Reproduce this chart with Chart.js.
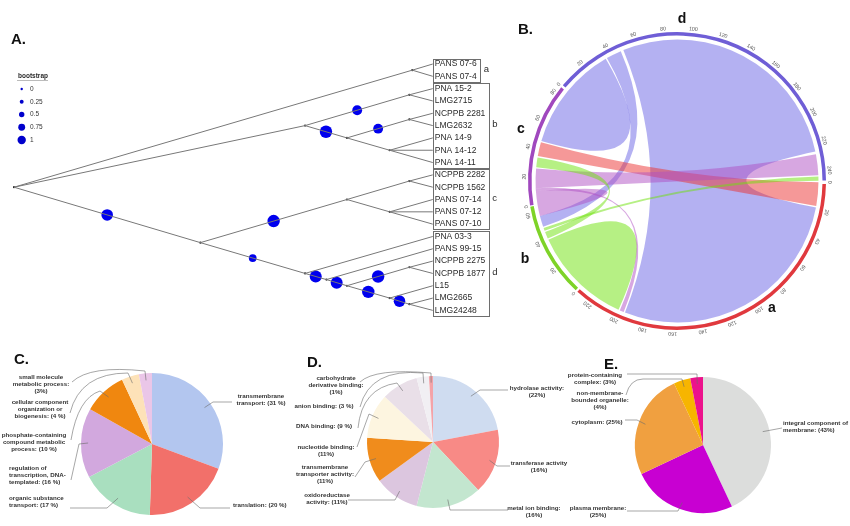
<!DOCTYPE html>
<html>
<head>
<meta charset="utf-8">
<title>Phylogeny, chord diagram and GO pies</title>
<script src="https://cdn.jsdelivr.net/npm/chart.js@4.4.1/dist/chart.umd.min.js"></script>
<style>
  html, body { margin: 0; padding: 0; background: #fff; }
  #fig { position: relative; width: 850px; height: 526px; overflow: hidden;
         font-family: "Liberation Sans", Arial, sans-serif; }
  #fig canvas { position: absolute; }
  .tag { position: absolute; font-weight: bold; font-size: 15px; line-height: 15px; color: #111; }
  .sec { position: absolute; font-weight: bold; font-size: 14px; line-height: 14px; color: #111;
         transform: translate(-50%, -50%); }
</style>
</head>
<body>
<div id="fig">
  <canvas id="tree" width="520" height="300" style="left:0;top:30px"></canvas>
  <canvas id="chord" width="340" height="340" style="left:507px;top:11px"></canvas>
  <canvas id="pieC" width="300" height="186" style="left:0;top:340px"></canvas>
  <canvas id="pieD" width="290" height="186" style="left:280px;top:340px"></canvas>
  <canvas id="pieE" width="290" height="186" style="left:560px;top:340px"></canvas>
  <div class="tag" style="left:11px;top:31px">A.</div>
  <div class="tag" style="left:518px;top:21px">B.</div>
  <div class="tag" style="left:14px;top:351px">C.</div>
  <div class="tag" style="left:307px;top:354px">D.</div>
  <div class="tag" style="left:604px;top:356px">E.</div>
  <div class="sec" style="left:682px;top:18px">d</div>
  <div class="sec" style="left:521px;top:128px">c</div>
  <div class="sec" style="left:525px;top:258px">b</div>
  <div class="sec" style="left:772px;top:307px">a</div>
</div>
<script>
// ---------- A. tree data ----------
const leafNames = ["PANS 07-6", "PANS 07-4", "PNA 15-2", "LMG2715", "NCPPB 2281", "LMG2632",
  "PNA 14-9", "PNA 14-12", "PNA 14-11", "NCPPB 2282", "NCPPB 1562", "PANS 07-14", "PANS 07-12",
  "PANS 07-10", "PNA 03-3", "PANS 99-15", "NCPPB 2275", "NCPPB 1877", "L15", "LMG2665", "LMG24248"];
const groupNames = ["a", "b", "c", "d"];
const groupFirst = [0, 2, 9, 14];
const groupLast = [1, 8, 13, 20];
// internal nodes: parent (-1 = root) and distance from root (tips = 1)
const nodeParent = [-1, 0, 0, 2, 2, 4, 4, 0, 7, 8, 8, 7, 11, 12, 13, 13, 15];
const nodeDepth = [0, 0.951, 0.695, 0.944, 0.795, 0.944, 0.897, 0.445, 0.795, 0.944, 0.897,
  0.695, 0.746, 0.795, 0.944, 0.897, 0.944];
const leafParent = [1, 1, 3, 3, 5, 5, 6, 6, 6, 9, 9, 10, 10, 10, 11, 12, 14, 14, 15, 16, 16];
// bootstrap on the branch above each internal node
const bootstrap = [null, null, null, 0.7, 1, 0.7, null, 0.9, 1, null, null, 0.45, 0.95, 0.95, 1, 1, 0.9];
const legendSteps = [0, 0.25, 0.5, 0.75, 1];

// ---------- B. chord data ----------
const sectorNames = ["a", "b", "c", "d"];
const sectorTotals = [232, 66, 86, 248];
const sectorColors = ["#e0393e", "#7ed328", "#a048be", "#6f5ed6"];
const ribbonColors = ["rgba(235,50,50,0.5)", "rgba(110,225,10,0.5)", "rgba(175,80,195,0.5)", "rgba(105,100,230,0.5)"];
const linkFrom = ["d", "d", "d", "a", "c", "c", "c", "b", "b", "b"];
const fromStart = [50, 0, 37, 0, 12, 0, 10, 0, 41, 47];
const fromEnd = [226, 36, 48, 17, 26, 10, 12, 40, 46, 49];
const linkTo = ["a", "c", "b", "c", "d", "b", "a", "a", "c", "d"];
const toStart = [18, 46, 50, 35, 228, 58, 196, 200, 27, 244];
const toEnd = [195, 86, 58, 45, 243, 66, 199, 232, 34, 247];
const tickStep = 20;

// ---------- C/D/E pie data ----------
const cCategories = ["transmembrane transport", "translation", "organic substance transport",
  "regulation of transcription, DNA-templated", "phosphate-containing compound metabolic process",
  "cellular component organization or biogenesis", "small molecule metabolic process"];
const cValues = [31, 20, 17, 16, 10, 4, 3];
const cColors = ["#b3c6ef", "#f2706a", "#a9dfbf", "#d2a8de", "#f0870f", "#fde2b8", "#eac6e8"];
const cLabelLines = [["transmembrane", "transport: (31 %)"], ["translation: (20 %)"],
  ["organic substance", "transport: (17 %)"], ["regulation of", "transcription, DNA-", "templated: (16 %)"],
  ["phosphate-containing", "compound metabolic", "process: (10 %)"],
  ["cellular component", "organization or", "biogenesis: (4 %)"],
  ["small molecule", "metabolic process:", "(3%)"]];

const dCategories = ["hydrolase activity", "transferase activity", "metal ion binding",
  "oxidoreductase activity", "transmembrane transporter activity", "nucleotide binding",
  "DNA binding", "anion binding", "carbohydrate derivative binding"];
const dValues = [22, 16, 16, 11, 11, 11, 9, 3, 1];
const dColors = ["#cfdcf0", "#f88a86", "#c3e6cf", "#dcc6df", "#f08c1c", "#fdf5e0", "#e9dfe8", "#f1eff3", "#f4a3a8"];
const dLabelLines = [["hydrolase activity:", "(22%)"], ["transferase activity", "(16%)"],
  ["metal ion binding:", "(16%)"], ["oxidoreductase", "activity: (11%)"],
  ["transmembrane", "transporter activity:", "(11%)"], ["nucleotide binding:", "(11%)"],
  ["DNA binding: (9 %)"], ["anion binding: (3 %)"], ["carbohydrate", "derivative binding:", "(1%)"]];

const eCategories = ["integral component of membrane", "plasma membrane", "cytoplasm",
  "non-membrane-bounded organelle", "protein-containing complex"];
const eValues = [43, 25, 25, 4, 3];
const eColors = ["#dcdddc", "#c800d2", "#f0a040", "#f7b500", "#ec128c"];
const eLabelLines = [["integral component of", "membrane: (43%)"], ["plasma membrane:", "(25%)"],
  ["cytoplasm: (25%)"], ["non-membrane-", "bounded organelle:", "(4%)"], ["protein-containing", "complex: (3%)"]];

// label placement (page px): text anchor + leader bends; 4 numbers = curve
const cLayout = [
  { x: 261, y: 396, align: "center", path: [[213, 402], [232, 402]] },
  { x: 233, y: 505, align: "left", path: [[200, 508], [230, 508]] },
  { x: 9, y: 498, align: "left", path: [[107, 508], [70, 508]] },
  { x: 9, y: 468, align: "left", path: [[79, 444], [71, 480]] },
  { x: 34, y: 435, align: "center", path: [[100, 391], [78, 398, 71, 440]] },
  { x: 40, y: 402, align: "center", path: [[128, 373], [80, 373, 70, 413]] },
  { x: 41, y: 377, align: "center", path: [[145, 371], [90, 365, 72, 382]] }
];
const dLayout = [
  { x: 537, y: 388, align: "center", path: [[480, 390], [508, 390]] },
  { x: 539, y: 463, align: "center", path: [[497, 466], [510, 466]] },
  { x: 534, y: 508, align: "center", path: [[450, 510], [508, 510]] },
  { x: 327, y: 495, align: "center", path: [[395, 500], [348, 500]] },
  { x: 325, y: 467, align: "center", path: [[365, 462], [355, 477]] },
  { x: 326, y: 447, align: "center", path: [[369, 414], [357, 447]] },
  { x: 324, y: 426, align: "center", path: [[397, 383], [362, 388, 358, 428]] },
  { x: 324, y: 406, align: "center", path: [[423, 373], [370, 368, 360, 407]] },
  { x: 336, y: 378, align: "center", path: [[431, 373], [375, 368, 360, 382]] }
];
const eLayout = [
  { x: 783, y: 423, align: "left", path: [[782, 428]] },
  { x: 598, y: 508, align: "center", path: [[678, 511], [627, 511]] },
  { x: 597, y: 422, align: "center", path: [[637, 420], [625, 420]] },
  { x: 600, y: 393, align: "center", path: [[682, 379], [643, 379], [630, 379, 626, 395]] },
  { x: 595, y: 375, align: "center", path: [[697, 374], [627, 374]] }
];

Chart.defaults.font.family = '"Liberation Sans", Arial, sans-serif';

// ---------- A. tree ----------
const span = nodeParent.map(() => ({ lo: Infinity, hi: -Infinity }));
leafParent.forEach((p, i) => {
  for (let k = p; k !== -1; k = nodeParent[k]) {
    span[k].lo = Math.min(span[k].lo, i);
    span[k].hi = Math.max(span[k].hi, i);
  }
});
const nodeY = span.map((s) => (s.lo + s.hi) / 2);

const branches = [];
nodeParent.forEach((p, k) => {
  if (p >= 0) branches.push([{ x: nodeDepth[p], y: nodeY[p] }, { x: nodeDepth[k], y: nodeY[k] }]);
});
leafParent.forEach((p, i) => branches.push([{ x: nodeDepth[p], y: nodeY[p] }, { x: 1, y: i }]));

const treeDatasets = branches.map((b) => ({
  type: "scatter", data: b, showLine: true, borderColor: "#787878", borderWidth: 1, pointRadius: 0
}));
treeDatasets.push({
  type: "scatter",
  data: nodeDepth.map((d, k) => ({ x: d, y: nodeY[k] })),
  pointRadius: 1.1, backgroundColor: "#222", borderWidth: 0
});
const bubbleData = [];
bootstrap.forEach((b, k) => {
  if (b === null) return;
  const p = nodeParent[k];
  bubbleData.push({ x: (nodeDepth[k] + nodeDepth[p]) / 2, y: (nodeY[k] + nodeY[p]) / 2, r: 2 + 4.2 * b });
});
treeDatasets.push({ type: "bubble", data: bubbleData, backgroundColor: "#0000ee", borderWidth: 0 });

const treeText = {
  id: "treeText",
  afterDatasetsDraw(chart) {
    const { ctx, scales: { x, y } } = chart;
    const x0 = x.getPixelForValue(1);
    ctx.save();
    ctx.textBaseline = "middle";
    ctx.fillStyle = "#2a2a2a";
    ctx.font = '8.5px "Liberation Sans", Arial, sans-serif';
    leafNames.forEach((n, i) => ctx.fillText(n, x0 + 2, y.getPixelForValue(i)));
    ctx.strokeStyle = "#6e6e6e";
    ctx.lineWidth = 1;
    groupNames.forEach((g, k) => {
      ctx.font = '8.5px "Liberation Sans", Arial, sans-serif';
      const names = leafNames.slice(groupFirst[k], groupLast[k] + 1);
      const w = Math.max(...names.map((n) => ctx.measureText(n).width)) + 5;
      const top = y.getPixelForValue(groupFirst[k]) - 5.5;
      const bot = y.getPixelForValue(groupLast[k]) + 5.5;
      ctx.strokeRect(Math.round(x0) + 0.5, Math.round(top) + 0.5, Math.round(w), Math.round(bot - top));
      ctx.font = '9.5px "Liberation Sans", Arial, sans-serif';
      ctx.fillText(g, x0 + w + 4, (top + bot) / 2 - 1);
    });
    // bootstrap legend
    ctx.font = 'bold 6.5px "Liberation Sans", Arial, sans-serif';
    ctx.fillText("bootstrap", 18, 46);
    ctx.strokeStyle = "#bbb";
    ctx.beginPath(); ctx.moveTo(17, 50.5); ctx.lineTo(48, 50.5); ctx.stroke();
    ctx.font = '6.5px "Liberation Sans", Arial, sans-serif';
    legendSteps.forEach((b, i) => {
      const cy = 59 + i * 12.75;
      ctx.fillStyle = "#0000cc";
      ctx.beginPath(); ctx.arc(21.7, cy, 1.2 + 3 * b, 0, Math.PI * 2); ctx.fill();
      ctx.fillStyle = "#333";
      ctx.fillText(String(b), 30, cy);
    });
    ctx.restore();
  }
};

new Chart(document.getElementById("tree"), {
  type: "scatter",
  data: { datasets: treeDatasets },
  options: {
    responsive: false, animation: false, events: [],
    layout: { padding: 0 },
    plugins: { legend: { display: false }, tooltip: { enabled: false } },
    scales: {
      x: { type: "linear", display: false, min: -8 / 429, max: 512 / 429 },
      y: { type: "linear", display: false, reverse: true, min: -2.2568, max: 21.089 }
    }
  },
  plugins: [treeText]
});

// ---------- B. chord ----------
const chordPlugin = {
  id: "chord",
  afterDatasetsDraw(chart) {
    const ctx = chart.ctx;
    const arcs = chart.getDatasetMeta(0).data;
    const cx = arcs[0].x, cy = arcs[0].y;
    const rIn = arcs[0].innerRadius - 2.5;
    const rOut = arcs[0].outerRadius;
    const angle = (s, u) => {
      const i = sectorNames.indexOf(s);
      const a = arcs[i];
      return a.startAngle + (a.endAngle - a.startAngle) * u / sectorTotals[i];
    };
    const pt = (t) => [cx + rIn * Math.cos(t), cy + rIn * Math.sin(t)];
    ctx.save();
    linkFrom.forEach((s, k) => {
      const a1 = angle(s, fromStart[k]), a2 = angle(s, fromEnd[k]);
      const b1 = angle(linkTo[k], toStart[k]), b2 = angle(linkTo[k], toEnd[k]);
      ctx.beginPath();
      ctx.moveTo(...pt(a1));
      ctx.arc(cx, cy, rIn, a1, a2);
      ctx.quadraticCurveTo(cx, cy, ...pt(b1));
      ctx.arc(cx, cy, rIn, b1, b2);
      ctx.quadraticCurveTo(cx, cy, ...pt(a1));
      ctx.closePath();
      ctx.fillStyle = ribbonColors[sectorNames.indexOf(s)];
      ctx.fill();
    });
    // axis labels
    ctx.font = '5.3px "Liberation Sans", Arial, sans-serif';
    ctx.fillStyle = "#555";
    ctx.textAlign = "center";
    ctx.textBaseline = "bottom";
    sectorNames.forEach((s, i) => {
      for (let u = 0; u <= sectorTotals[i]; u += tickStep) {
        const t = angle(s, u);
        ctx.save();
        ctx.translate(cx + (rOut + 2.5) * Math.cos(t), cy + (rOut + 2.5) * Math.sin(t));
        ctx.rotate(t + Math.PI / 2);
        ctx.fillText(String(u), 0, 0);
        ctx.restore();
      }
    });
    ctx.restore();
  }
};

new Chart(document.getElementById("chord"), {
  type: "doughnut",
  data: { labels: sectorNames, datasets: [{ data: sectorTotals, backgroundColor: sectorColors, borderWidth: 0 }] },
  options: {
    responsive: false, animation: false, events: [],
    rotation: 90.5, cutout: "97.6%", spacing: 3,
    layout: { padding: 21 },
    plugins: { legend: { display: false }, tooltip: { enabled: false } }
  },
  plugins: [chordPlugin]
});

// ---------- C/D/E pies ----------
function callouts(lines, layout, left, top) {
  return {
    id: "callouts",
    afterDatasetsDraw(chart) {
      const ctx = chart.ctx;
      const arcs = chart.getDatasetMeta(0).data;
      ctx.save();
      layout.forEach((it, i) => {
        const a = arcs[i];
        const mid = (a.startAngle + a.endAngle) / 2;
        const r = a.outerRadius * 0.9;
        ctx.strokeStyle = "#6b6b6b";
        ctx.lineWidth = 0.6;
        ctx.beginPath();
        ctx.moveTo(a.x + r * Math.cos(mid), a.y + r * Math.sin(mid));
        it.path.forEach((p) => {
          if (p.length === 4) ctx.quadraticCurveTo(p[0] - left, p[1] - top, p[2] - left, p[3] - top);
          else ctx.lineTo(p[0] - left, p[1] - top);
        });
        ctx.stroke();
        ctx.font = 'bold 6.2px "Liberation Sans", Arial, sans-serif';
        ctx.fillStyle = "#333";
        ctx.textAlign = it.align;
        ctx.textBaseline = "middle";
        lines[i].forEach((s, k) => ctx.fillText(s, it.x - left, it.y - top + k * 7));
      });
      ctx.restore();
    }
  };
}

function makePie(id, cats, vals, cols, lines, layout, left, top, pad) {
  new Chart(document.getElementById(id), {
    type: "pie",
    data: { labels: cats, datasets: [{ data: vals, backgroundColor: cols, borderWidth: 0 }] },
    options: {
      responsive: false, animation: false, events: [],
      layout: { padding: pad },
      plugins: { legend: { display: false }, tooltip: { enabled: false } }
    },
    plugins: [callouts(lines, layout, left, top)]
  });
}

makePie("pieC", cCategories, cValues, cColors, cLabelLines, cLayout, 0, 340,
  { left: 81, right: 77, top: 33, bottom: 11 });
makePie("pieD", dCategories, dValues, dColors, dLabelLines, dLayout, 280, 340,
  { left: 87, right: 71, top: 36, bottom: 18 });
makePie("pieE", eCategories, eValues, eColors, eLabelLines, eLayout, 560, 340,
  { left: 75, right: 79, top: 37, bottom: 13 });
</script>
</body>
</html>
